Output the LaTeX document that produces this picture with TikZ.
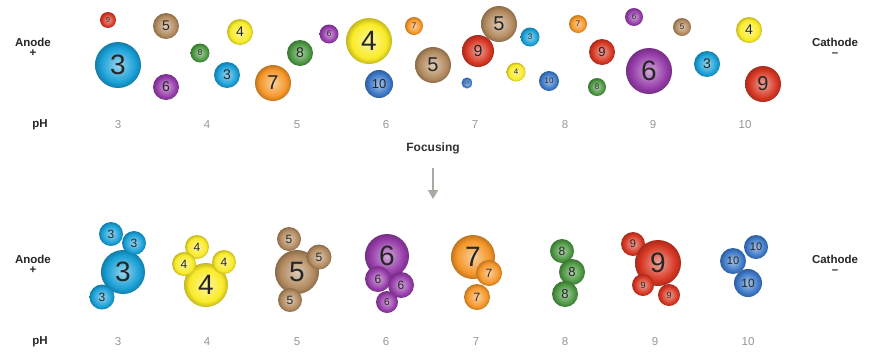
\documentclass[tikz,border=0pt]{standalone}
\usepackage{fontspec}
\setmainfont{Liberation Sans}
\usetikzlibrary{arrows.meta}
\definecolor{c3}{RGB}{25,160,215}
\definecolor{c4}{RGB}{250,235,40}
\definecolor{c5}{RGB}{178,138,95}
\definecolor{c6}{RGB}{150,60,170}
\definecolor{c7}{RGB}{245,150,40}
\definecolor{c8}{RGB}{75,150,65}
\definecolor{c9}{RGB}{215,55,35}
\definecolor{c10}{RGB}{60,120,200}
\definecolor{phgray}{RGB}{150,150,150}
\definecolor{arrgray}{RGB}{170,170,162}
\colorlet{ballcol}{c3}
\pgfdeclareradialshading[ballcol]{myball}{\pgfpoint{0bp}{0bp}}{color(0bp)=(ballcol!45!white); color(12bp)=(ballcol!80!white); color(19bp)=(ballcol); color(25bp)=(ballcol!78!black); color(50bp)=(ballcol!78!black)}
\tikzset{
  bl/.style n args={3}{/utils/exec={\colorlet{ballcol}{#1}}, shading=myball, circle, inner sep=0pt, minimum size={2*#2pt}, font=\fontsize{#3}{#3}\selectfont, text=black!85},
  side/.style={font=\fontsize{11.5}{10}\selectfont\bfseries, align=center, text=black!85},
  phlab/.style={font=\fontsize{11.5}{12}\selectfont\bfseries, text=black!85},
  phnum/.style={font=\fontsize{11.5}{12}\selectfont, text=phgray},
}
\begin{document}
\begin{tikzpicture}[x=1pt,y=-1pt]
\useasboundingbox (0,0) rectangle (870,354);
% ---------- top row ----------
\node[bl={c9}{8}{7}] (t1) at (108,20) {9};
\node[bl={c5}{13}{14}] (t2) at (166,26) {5};
\node[bl={c4}{13}{14}] (t3) at (240,32) {4};
\node[bl={c3}{23}{28}] (t4) at (118,65) {3};
\node[bl={c8}{9.5}{8}] (t5) at (200,53) {8};
\node[bl={c3}{13}{14}] (t6) at (227,75) {3};
\node[bl={c6}{13}{14}] (t7) at (166,87) {6};
\node[bl={c7}{18}{20}] (t8) at (273,83) {7};
\node[bl={c8}{13}{14}] (t9) at (300,53) {8};
\node[bl={c6}{9.5}{8}] (t10) at (329,34) {6};
\node[bl={c4}{23}{28}] (t11) at (369,41) {4};
\node[bl={c7}{9}{8}] (t12) at (414,26) {7};
\node[bl={c5}{18}{20}] (t13) at (433,65) {5};
\node[bl={c10}{14}{13}] (t14) at (379,84) {10};
\node[bl={c5}{18}{20}] (t15) at (499,24) {5};
\node[bl={c9}{16}{16}] (t16) at (478,51) {9};
\node[bl={c3}{9.5}{8}] (t17) at (530,37) {3};
\node[bl={c4}{9.5}{8}] (t18) at (516,72) {4};
\node[bl={c10}{5.5}{4}] (t19) at (467,83) {10};
\node[bl={c10}{10}{8}] (t20) at (549,81) {10};
\node[bl={c7}{9}{8}] (t21) at (578,24) {7};
\node[bl={c6}{9}{8}] (t22) at (634,17) {6};
\node[bl={c9}{13}{13}] (t23) at (602,52) {9};
\node[bl={c8}{9}{8}] (t24) at (597,87) {8};
\node[bl={c6}{23}{28}] (t25) at (649,71) {6};
\node[bl={c5}{9}{8}] (t26) at (682,27) {5};
\node[bl={c3}{13}{14}] (t27) at (707,64) {3};
\node[bl={c4}{13}{14}] (t28) at (749,30) {4};
\node[bl={c9}{18}{20}] (t29) at (763,84) {9};
% side labels top
\node[side] (anodeT) at (33,47) {Anode\\+};
\node[side] (cathT) at (835,47) {Cathode\\–};
\node[phlab] (phT) at (40,125) {pH};
\node[phnum] (pt3) at (118,125) {3};
\node[phnum] (pt4) at (207,125) {4};
\node[phnum] (pt5) at (297,125) {5};
\node[phnum] (pt6) at (386,125) {6};
\node[phnum] (pt7) at (475,125) {7};
\node[phnum] (pt8) at (565,125) {8};
\node[phnum] (pt9) at (653,125) {9};
\node[phnum] (pt10) at (745,125) {10};
% focusing
\node[font=\fontsize{12}{12}\selectfont\bfseries, text=black!80] (focus) at (433,148) {Focusing};
\coordinate (a1) at (433,168);
\coordinate (a2) at (433,199);
\draw[arrgray, line width=2.6pt, -{Triangle[width=10pt,length=9pt]}] (a1) -- (a2);
% ---------- bottom row ----------
\node[bl={c3}{22}{28}] (b3a) at (123,272) {3};
\node[bl={c3}{12}{12}] (b3b) at (111,234) {3};
\node[bl={c3}{12}{12}] (b3c) at (134,243) {3};
\node[bl={c3}{12.5}{12}] (b3d) at (102,297) {3};
\node[bl={c4}{22}{28}] (b4a) at (206,285) {4};
\node[bl={c4}{12}{12}] (b4b) at (197,247) {4};
\node[bl={c4}{12}{12}] (b4c) at (184,264) {4};
\node[bl={c4}{12}{12}] (b4d) at (224,262) {4};
\node[bl={c5}{22}{28}] (b5a) at (297,272) {5};
\node[bl={c5}{12}{12}] (b5b) at (289,239) {5};
\node[bl={c5}{12.5}{12}] (b5c) at (319,257) {5};
\node[bl={c5}{12}{12}] (b5d) at (290,300) {5};
\node[bl={c6}{22}{28}] (b6a) at (387,256) {6};
\node[bl={c6}{13}{12}] (b6b) at (378,279) {6};
\node[bl={c6}{13}{12}] (b6c) at (401,285) {6};
\node[bl={c6}{11}{10}] (b6d) at (387,302) {6};
\node[bl={c7}{22}{28}] (b7a) at (473,257) {7};
\node[bl={c7}{13}{12}] (b7b) at (489,273) {7};
\node[bl={c7}{13}{12}] (b7c) at (477,297) {7};
\node[bl={c8}{12}{12}] (b8a) at (562,251) {8};
\node[bl={c8}{13}{13}] (b8b) at (572,272) {8};
\node[bl={c8}{13}{13}] (b8c) at (565,294) {8};
\node[bl={c9}{12}{11}] (b9b) at (633,244) {9};
\node[bl={c9}{23}{28}] (b9a) at (658,263) {9};
\node[bl={c9}{11}{9}] (b9c) at (643,285) {9};
\node[bl={c9}{11}{9}] (b9d) at (669,295) {9};
\node[bl={c10}{12}{11}] (b10a) at (756,247) {10};
\node[bl={c10}{13}{11}] (b10b) at (733,261) {10};
\node[bl={c10}{14}{12}] (b10c) at (748,283) {10};
% side labels bottom
\node[side] (anodeB) at (33,264) {Anode\\+};
\node[side] (cathB) at (835,264) {Cathode\\–};
\node[phlab] (phB) at (40,342) {pH};
\node[phnum] (pb3) at (118,342) {3};
\node[phnum] (pb4) at (207,342) {4};
\node[phnum] (pb5) at (297,342) {5};
\node[phnum] (pb6) at (386,342) {6};
\node[phnum] (pb7) at (476,342) {7};
\node[phnum] (pb8) at (565,342) {8};
\node[phnum] (pb9) at (655,342) {9};
\node[phnum] (pb10) at (748,342) {10};
\end{tikzpicture}
\end{document}
